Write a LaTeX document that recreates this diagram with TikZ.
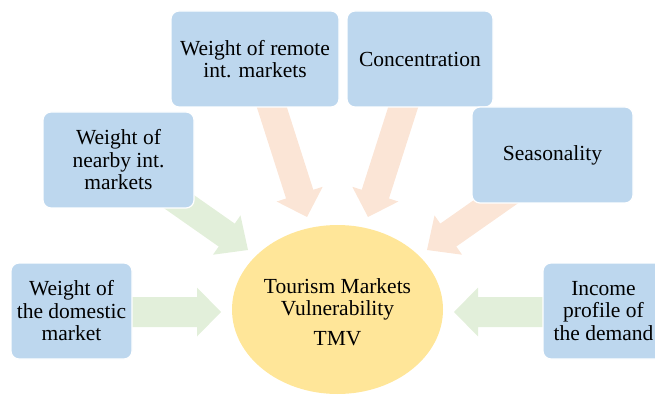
\documentclass[tikz,border=0pt]{standalone}
\usepackage{fontspec}
\setmainfont{Liberation Serif}
\usetikzlibrary{calc,shapes.geometric}
\definecolor{boxblue}{HTML}{BDD7EE}
\definecolor{tmvyellow}{HTML}{FFE699}
\definecolor{arrgreen}{HTML}{E2EFDA}
\definecolor{arrpeach}{HTML}{FBE5D6}
% #1 tail, #2 tip, #3 colour, #4 half shaft, #5 half head, #6 head length
\newcommand{\blockarr}[6]{%
  \coordinate (#1h) at ($(#2)!#6!(#1)$);
  \fill[#3] ($(#1)!#4!90:(#2)$) -- ($(#1h)!#4!90:(#2)$) -- ($(#1h)!#5!90:(#2)$) -- (#2)
    -- ($(#1h)!#5!-90:(#2)$) -- ($(#1h)!#4!-90:(#2)$) -- ($(#1)!#4!-90:(#2)$) -- cycle;}
\begin{document}
\begin{tikzpicture}[x=1pt,y=-1pt,
  factor/.style={fill=boxblue, draw=white, line width=1.2pt, rounded corners=8pt,
    align=center, font=\fontsize{21.5}{22.5}\selectfont, inner sep=0pt, minimum height=96pt},
  lbl/.style={align=center, font=\fontsize{21.5}{22.5}\selectfont, inner sep=0pt}]
\useasboundingbox (0,0) rectangle (655,395);
\clip (0,0) rectangle (655,395);

% arrow end points
\coordinate (domtail) at (130,312);   \coordinate (domtip) at (221,312);
\coordinate (inctail) at (545,312);   \coordinate (inctip) at (454,312);
\coordinate (neatail) at (149,180.6); \coordinate (neatip) at (248,250);
\coordinate (seatail) at (526,180.6); \coordinate (seatip) at (427,250);
\coordinate (remtail) at (266,89);    \coordinate (remtip) at (307,217);
\coordinate (contail) at (409,89);    \coordinate (contip) at (368,217);

\blockarr{domtail}{domtip}{arrgreen}{15pt}{24.5pt}{24pt}
\blockarr{inctail}{inctip}{arrgreen}{15pt}{24.5pt}{24pt}
\blockarr{neatail}{neatip}{arrgreen}{14pt}{24pt}{26pt}
\blockarr{seatail}{seatip}{arrpeach}{14pt}{24pt}{26pt}
\blockarr{remtail}{remtip}{arrpeach}{14.3pt}{24.2pt}{24pt}
\blockarr{contail}{contip}{arrpeach}{14.3pt}{24.2pt}{24pt}

% centre ellipse
\node[ellipse, fill=tmvyellow, minimum width=211pt, minimum height=169pt, inner sep=0pt] (tmv) at (337.5,309.5) {};
\node[lbl] (tmvtext) at (337.5,312) {Tourism Markets\\Vulnerability\\[7pt]TMV};

% factor boxes
\node[factor, minimum width=168pt] (remote) at (255,59) {Weight of remote\\int. markets};
\node[factor, minimum width=146pt] (conc) at (420,59) {Concentration};
\node[factor, minimum width=151pt] (nearby) at (118.5,160) {Weight of\\nearby int.\\markets};
\node[factor, minimum width=161pt] (season) at (552.5,155) {Seasonality};
\node[factor, minimum width=121pt] (domestic) at (71.5,311) {Weight of\\the domestic\\market};
\node[factor, minimum width=121pt] (income) at (603.5,311) {Income\\profile of\\the demand};
\end{tikzpicture}
\end{document}
